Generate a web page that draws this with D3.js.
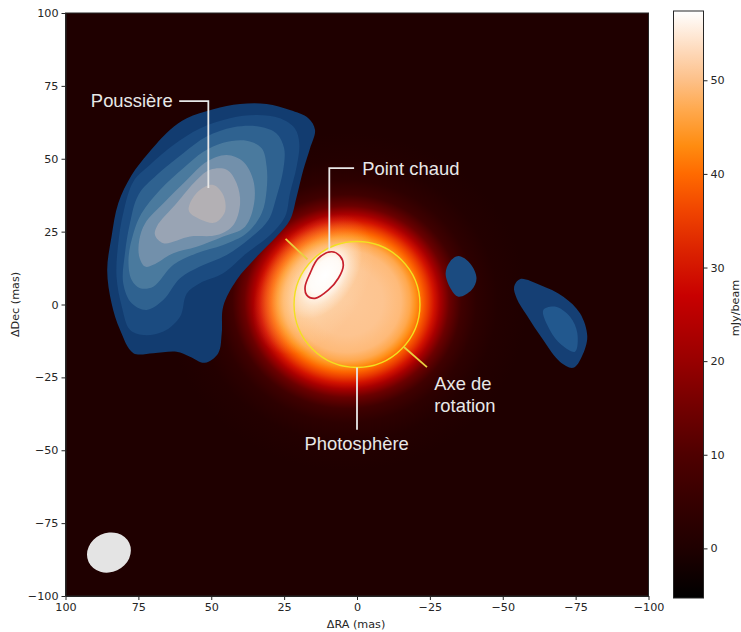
<!DOCTYPE html>
<html>
<head>
<meta charset="utf-8">
<script src="https://cdn.jsdelivr.net/npm/d3@7"></script>
<style>
html,body{margin:0;padding:0;background:#fff;}
svg{display:block;}
text{font-family:"DejaVu Sans",sans-serif;}
</style>
</head>
<body>
<div id="chart"></div>
<script>
// axis ticks
var raTicks = [100,75,50,25,0,-25,-50,-75,-100];
var decTicks = [100,75,50,25,0,-25,-50,-75,-100];
var barTicks = [0,10,20,30,40,50];

// colour map of the image, mJy/beam
var cmapValues = [-5.3,0,5,10,15,20,27,32,36,40,43,47,50,53,57.4];
var cmapColors = ["#000000","#1f0000","#360000","#4f0000","#720000","#980000","#c80000","#dc2400","#f04400","#ff6a00","#ff8c10","#ffaa50","#fdc088","#fed8b8","#ffffff"];

// radial profile of the star (radius in mas, mJy/beam)
var starRadius = [0,12,18,21,23,25,27,29,31,34,38,43,50,60];
var starValue = [51,50.5,49.2,46.8,43.5,39.5,35,29.5,22.5,14,7,3,0.8,0];

// hot spot glow on the star
var spotRadius = [0,0.4,0.7,1];
var spotAlpha = [1,0.9,0.35,0];

// wider pale glow around the hot spot
var haloRadius = [0,0.35,0.7,1];
var haloAlpha = [0.6,0.42,0.15,0];

// dust contours, outermost first: [RA, Dec] in mas
var dust1 = [[64.2,59.9],[58.4,63.9],[49.3,67],[40.1,68.8],[31,68.8],[23,66.7],[16.7,63.9],[14.4,59.9],[16.1,53.6],[18.4,46.2],[20.7,37],[23,29],[27.6,23.3],[34.4,16.4],[41.3,8.4],[45.9,-0.7],[46.4,-9.9],[47.6,-16.7],[52.2,-20],[57.3,-17.9],[61.9,-16.2],[69.9,-16.7],[76.7,-16.7],[81.3,-8.7],[84.2,0.4],[85.7,11.8],[84.2,23.3],[81.9,34.7],[77.3,44.4],[71.6,51.9]];
var dust2 = [[76.7,42.2],[71,47.9],[63,54.7],[53.9,60.4],[43.6,63.9],[34.4,65],[26.4,63.9],[21.3,60.4],[19.8,55.3],[20.7,47.3],[23,38.1],[24.7,30.1],[29.8,23.8],[37.9,17.6],[45.9,10.7],[53.9,7.3],[58.4,3.8],[60.7,-4.2],[66.4,-9.3],[73.3,-10.5],[77.9,-8.7],[80.7,-0.7],[82.5,9.6],[81.9,21],[80.2,31.3]];
var dust3 = [[75,37.6],[68.7,44.4],[59.6,51.9],[51.6,57.6],[42.4,60.8],[33.3,61],[27.6,58.7],[25,53.6],[25.3,46.2],[27.6,37],[30.4,29],[36.7,22.7],[44.7,17],[53.9,13],[60.7,9],[66.4,1.6],[72.2,-1.9],[77.3,0.4],[80.2,7.3],[79.6,17.6],[77.9,27.9]];
var dust4 = [[73.9,31.3],[67.6,39.3],[59.6,46.7],[52.7,52.4],[45.9,55.5],[37.9,56.2],[32.7,53.6],[31,47.3],[31,39.3],[32.7,31.3],[37.9,24.4],[45.9,20.4],[55,17.6],[63,13.6],[69.9,6.1],[74.4,5.6],[77.3,8.4],[78.4,15.3],[76.7,24.4]];
var dust5 = [[72.7,27.8],[66.4,34.7],[58.4,42.7],[51.6,49],[44.7,51.3],[39,49],[35.6,42.7],[35.3,34.7],[38.4,26.7],[45.9,23.3],[55,19.8],[63,17.6],[69.9,13.6],[72.7,13],[74.7,16.4],[74.7,22.1]];
var dust6 = [[68.7,26.7],[61.9,34.7],[55,42.7],[50.4,46.2],[44.7,46.2],[41.3,41.6],[40.1,34.7],[42.4,27.3],[48.1,23.8],[57.3,23.3],[66.4,21],[69.3,23.8]];
var dust7 = [[57.3,34.7],[53.9,39.3],[49.3,41],[45.9,37.6],[45.3,31.8],[48.7,28.1],[53.3,29],[57.6,31.9]];
var blobA = [[-34.8,16.6],[-38.8,14.1],[-41,9],[-39.3,5],[-34.8,2.7],[-32.1,5.5],[-30.4,10.7],[-31.9,14.7]];
var blobB = [[-55.9,8.7],[-62.8,6.7],[-70.8,2.7],[-76.5,-3],[-79,-11],[-77.1,-17.9],[-74.2,-21.7],[-69.6,-19.6],[-63.9,-12.2],[-58.2,-3.6],[-54.8,2.1],[-53.9,6.1]];
var blobBInner = [[-63.9,-1.9],[-67.9,-0.7],[-73.1,-4.2],[-75.6,-9.9],[-74.8,-16.2],[-70.2,-13.9],[-66.2,-8.8]];
var contours = [dust1,dust2,dust3,dust4,dust5,dust6,dust7,blobA,blobB,blobBInner];
var contourColors = ["#123c70","#1b4b80","#2f6290","#4a7a9e","#7290ab","#99a4b4","#b3b0b4","#1b4b80","#153f74","#22588e"];

// hot spot outline
var hotSpot = [[8.7,18.1],[5.8,16.6],[4.7,13.5],[6.4,9],[9.8,5],[14.4,2.1],[17.3,3.3],[17.8,6.1],[16.1,10.7],[13.3,15.8]];

// annotations
var leaderLines = [
	{pts:[[61,69.8],[51,69.8],[51,40]],color:"#e8e8e8"},
	{pts:[[1,46.8],[9.5,46.8],[9.5,18.5]],color:"#e8e8e8"},
	{pts:[[0,-21.6],[0,-43]],color:"#e8e8e8"},
	{pts:[[24.5,22.5],[17,15.5]],color:"#e8d040"},
	{pts:[[-16,-14.5],[-24,-21.5]],color:"#e8d040"}
];
var labels = [
	{t:"Poussière",ra:91.3,dec:69.8},
	{t:"Point chaud",ra:-1.8,dec:46.8},
	{t:"Axe de",ra:-26.5,dec:-27.2},
	{t:"rotation",ra:-26.5,dec:-34.7},
	{t:"Photosphère",ra:18,dec:-47.7}
];

var width = 741, height = 632;
var x = d3.scaleLinear().domain([100,-100]).range([65.5,648.5]);
var y = d3.scaleLinear().domain([100,-100]).range([13,596]);
var barY = d3.scaleLinear().domain([-5.3,57.4]).range([598,11]);
var cmap = d3.scaleLinear().domain(cmapValues).range(cmapColors).clamp(true);

var svg = d3.select("#chart").append("svg").attr("width",width).attr("height",height);
var defs = svg.append("defs");

defs.append("clipPath").attr("id","plotClip").append("rect")
	.attr("x",x(100)).attr("y",y(100)).attr("width",x(-100)-x(100)).attr("height",y(-100)-y(100));
defs.append("clipPath").attr("id","diskClip").append("circle")
	.attr("cx",x(0)).attr("cy",y(0)).attr("r",x(0)-x(21.6));

var starGrad = defs.append("radialGradient").attr("id","starGrad");
starRadius.forEach(function(r,i){
	starGrad.append("stop").attr("offset",r/60).attr("stop-color",cmap(starValue[i]));
});
var spotGrad = defs.append("radialGradient").attr("id","spotGrad");
spotRadius.forEach(function(r,i){
	spotGrad.append("stop").attr("offset",r).attr("stop-color","#ffffff").attr("stop-opacity",spotAlpha[i]);
});
var haloGrad = defs.append("radialGradient").attr("id","haloGrad");
haloRadius.forEach(function(r,i){
	haloGrad.append("stop").attr("offset",r).attr("stop-color","#ffeccf").attr("stop-opacity",haloAlpha[i]);
});
var barGrad = defs.append("linearGradient").attr("id","barGrad").attr("x1",0).attr("y1",1).attr("x2",0).attr("y2",0);
cmapValues.forEach(function(v,i){
	barGrad.append("stop").attr("offset",(v+5.3)/62.7).attr("stop-color",cmapColors[i]);
});

// image
var plot = svg.append("g").attr("clip-path","url(#plotClip)");
plot.append("rect").attr("x",x(100)).attr("y",y(100)).attr("width",x(-100)-x(100)).attr("height",y(-100)-y(100)).attr("fill",cmap(0));
plot.append("ellipse").attr("cx",x(3.5)).attr("cy",y(1)).attr("rx",x(0)-x(62)).attr("ry",x(0)-x(58)).attr("fill","url(#starGrad)");
plot.append("ellipse").attr("cx",x(15)).attr("cy",y(7)).attr("rx",x(0)-x(17)).attr("ry",x(0)-x(27))
	.attr("transform","rotate(35,"+x(15)+","+y(7)+")").attr("fill","url(#haloGrad)");
plot.append("g").attr("clip-path","url(#diskClip)").append("ellipse")
	.attr("cx",x(11)).attr("cy",y(10)).attr("rx",x(0)-x(10)).attr("ry",x(0)-x(17))
	.attr("transform","rotate(35,"+x(11)+","+y(10)+")").attr("fill","url(#spotGrad)");

var contourLine = d3.line().x(function(d){return x(d[0]);}).y(function(d){return y(d[1]);}).curve(d3.curveCatmullRomClosed.alpha(0.5));
plot.selectAll(".contour").data(contours).enter().append("path").attr("class","contour")
	.attr("d",contourLine).attr("fill",function(d,i){return contourColors[i];});

// beam
plot.append("ellipse").attr("cx",x(85.1)).attr("cy",y(-85.1)).attr("rx",x(0)-x(7.7)).attr("ry",x(0)-x(6.7))
	.attr("transform","rotate(-25,"+x(85.1)+","+y(-85.1)+")").attr("fill","#e4e4e4");

// photosphere and hot spot
plot.append("circle").attr("cx",x(0)).attr("cy",y(0)).attr("r",x(0)-x(21.6)).attr("fill","none").attr("stroke","#f2e020").attr("stroke-width",1.4);
plot.append("path").attr("d",contourLine(hotSpot)).attr("fill","none").attr("stroke","#c8202c").attr("stroke-width",1.7);

var leader = d3.line().x(function(d){return x(d[0]);}).y(function(d){return y(d[1]);});
plot.selectAll(".leader").data(leaderLines).enter().append("path").attr("class","leader")
	.attr("d",function(d){return leader(d.pts);}).attr("fill","none")
	.attr("stroke",function(d){return d.color;}).attr("stroke-width",1.8);
plot.selectAll(".note").data(labels).enter().append("text").attr("class","note")
	.attr("x",function(d){return x(d.ra);}).attr("y",function(d){return y(d.dec);})
	.attr("dy","0.35em").attr("fill","#e8e8e8")
	.style("font-family","'Liberation Sans',sans-serif").style("font-size","18.4px")
	.text(function(d){return d.t;});

// axes
function fmt(d){ return String(d).replace("-","\u2212"); }
function styleAxis(g){
	g.selectAll("text").style("font-size","11.2px").attr("fill","#262626").style("font-family","'DejaVu Sans',sans-serif");
	g.selectAll("line").attr("stroke","#262626");
	g.select(".domain").attr("stroke","#262626");
}
svg.append("g").attr("transform","translate(0,"+y(-100)+")")
	.call(d3.axisBottom(x).tickValues(raTicks).tickFormat(fmt).tickSize(4).tickSizeOuter(0)).call(styleAxis);
svg.append("g").attr("transform","translate("+x(100)+",0)")
	.call(d3.axisLeft(y).tickValues(decTicks).tickFormat(fmt).tickSize(4).tickSizeOuter(0)).call(styleAxis);
svg.append("rect").attr("x",x(100)).attr("y",y(100)).attr("width",x(-100)-x(100)).attr("height",y(-100)-y(100))
	.attr("fill","none").attr("stroke","#262626").attr("stroke-width",1);

// colour bar
svg.append("rect").attr("x",673.5).attr("y",barY(57.4)).attr("width",30).attr("height",barY(-5.3)-barY(57.4))
	.attr("fill","url(#barGrad)").attr("stroke","#262626").attr("stroke-width",1);
svg.append("g").attr("transform","translate(703.5,0)")
	.call(d3.axisRight(barY).tickValues(barTicks).tickFormat(fmt).tickSize(4).tickSizeOuter(0))
	.call(styleAxis).call(function(g){g.select(".domain").remove();});

// axis titles
svg.append("text").attr("x",x(0)-1).attr("y",628).attr("text-anchor","middle").attr("fill","#262626").style("font-size","11.2px").text("\u0394RA (mas)");
svg.append("text").attr("transform","translate(19,"+y(0)+") rotate(-90)").attr("text-anchor","middle").attr("fill","#262626").style("font-size","11.2px").text("\u0394Dec (mas)");
svg.append("text").attr("transform","translate(739,308) rotate(-90)").attr("text-anchor","middle").attr("fill","#262626").style("font-size","11.2px").text("mJy/beam");
</script>
</body>
</html>
